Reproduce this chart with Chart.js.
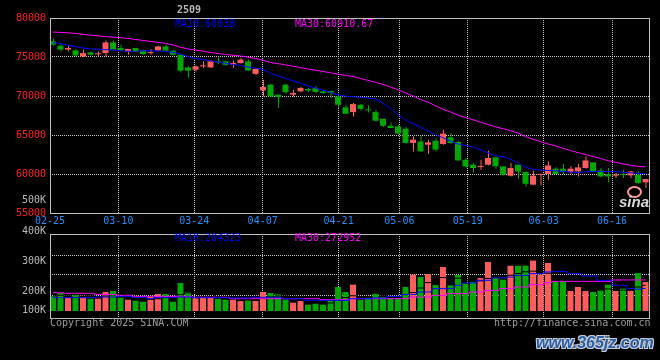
<!DOCTYPE html>
<html>
<head>
<meta charset="utf-8">
<title>2509</title>
<script src="https://cdn.jsdelivr.net/npm/chart.js@4/dist/chart.umd.min.js"></script>
<style>
body { margin: 0; background: #000; }
#box { position: relative; width: 660px; height: 360px; overflow: hidden; background: #000; }
canvas { position: absolute; left: 0; top: 0; }
.t { position: absolute; font: 10px/12px "DejaVu Sans Mono", monospace; white-space: pre; }
.ax { right: 614px; text-align: right; color: #b8b8b8; }
</style>
</head>
<body>
<div id="box">
  <canvas id="kline" width="660" height="232"></canvas>
  <canvas id="vol" width="660" height="360"></canvas>

  <div class="t" style="left:177px;top:4px;color:#b8b8b8;font-weight:bold">2509</div>
  <div class="t" style="left:175px;top:18px;color:#0000ff">MA10:60038</div>
  <div class="t" style="left:295px;top:18px;color:#ff00ff">MA30:60910.67</div>
  <div class="t ax" style="top:194px">500K</div>

  <div class="t ax" style="top:225px">400K</div>
  <div class="t ax" style="top:255px">300K</div>
  <div class="t ax" style="top:285px">200K</div>
  <div class="t ax" style="top:304px">100K</div>
  <div class="t" style="left:175px;top:232px;color:#0000ff">MA10:204323</div>
  <div class="t" style="left:295px;top:232px;color:#ff00ff">MA30:272952</div>

  <div class="t" style="left:50px;top:317px;color:#9a9a9a">Copyright 2025 SINA.COM</div>
  <div class="t" style="left:494px;top:317px;color:#9a9a9a">http://finance.sina.com.cn</div>

  <div style="position:absolute;left:627px;top:186px;width:11px;height:8px;border:2px solid #ff9a9a;border-radius:50%"></div>
  <div style="position:absolute;left:619px;top:194px;font:italic bold 15px/16px 'Liberation Sans',sans-serif;color:#d8d8d8">sina</div>
  <div style="position:absolute;left:536px;top:335px;font:italic bold 16px/16px 'Liberation Sans',sans-serif;color:#2f5f9f;text-shadow:-1px -1px 0 #c8d0e0,1px -1px 0 #c8d0e0,-1px 1px 0 #c8d0e0,1px 1px 0 #c8d0e0">www.365jz.com</div>
</div>

<script>
const dates = [
  "02-25", "02-26", "02-27", "02-28",
  "03-03", "03-04", "03-05", "03-06", "03-07", "03-10", "03-11", "03-12", "03-13", "03-14",
  "03-17", "03-18", "03-19", "03-20", "03-21", "03-24", "03-25", "03-26", "03-27", "03-28", "03-31",
  "04-01", "04-02", "04-03", "04-07", "04-08", "04-09", "04-10", "04-11", "04-14", "04-15", "04-16",
  "04-17", "04-18", "04-21", "04-22", "04-23", "04-24", "04-25", "04-28", "04-29", "04-30",
  "05-06", "05-07", "05-08", "05-09", "05-12", "05-13", "05-14", "05-15", "05-16", "05-19", "05-20",
  "05-21", "05-22", "05-23", "05-26", "05-27", "05-28", "05-29", "05-30",
  "06-03", "06-04", "06-05", "06-06", "06-09", "06-10", "06-11", "06-12", "06-13", "06-16", "06-17",
  "06-18", "06-19", "06-20", "06-23"
];
const tickDates = ["02-25", "03-10", "03-24", "04-07", "04-21", "05-06", "05-19", "06-03", "06-16"];

const open = [
  77000, 76450, 75950, 75850, 75080, 75600, 75350, 75500, 76870, 76150,
  75680, 76150, 75850, 75500, 75850, 76360, 75800, 75300, 73670, 73370,
  73800, 73670, 74440, 74440, 74000, 74230, 74440, 72840, 70720, 71450,
  70170, 71450, 70170, 70600, 70900, 71030, 70590, 70640, 69950, 68540,
  67940, 68880, 68250, 67940, 67090, 66190, 66100, 65810, 63970, 64180,
  63750, 64270, 63850, 64700, 64100, 61830, 61190, 60900, 61190, 62130,
  60980, 59780, 61190, 60250, 58630, 59900, 60000, 60680, 60680, 60250,
  60330, 60770, 61490, 60460, 59990, 59780, 59990, 59820, 59910, 58920
];
const high = [
  77350, 76700, 76550, 76000, 75940, 75720, 75700, 77130, 77130, 76580,
  76030, 76200, 75930, 76030, 76450, 76580, 75850, 75300, 73800, 73920,
  74440, 74650, 74950, 74550, 74560, 74870, 74650, 73600, 72090, 71580,
  70170, 71580, 70800, 71160, 71030, 71280, 70720, 70680, 70300, 68880,
  69090, 69010, 68800, 68250, 67090, 66650, 66320, 66030, 64830, 64960,
  64400, 64610, 65680, 65260, 64270, 62050, 61410, 61830, 62990, 62260,
  60980, 61410, 61190, 60330, 60420, 60000, 61620, 60850, 61320, 61000,
  61320, 62260, 61490, 60770, 60770, 60130, 60550, 60420, 60420, 59350
];
const low = [
  76450, 75700, 75700, 75050, 75000, 75200, 75070, 75080, 75850, 75720,
  75300, 75600, 75300, 75300, 75800, 75720, 75200, 73000, 72380, 73150,
  73600, 73600, 74100, 73900, 73600, 74140, 73200, 72700, 69950, 69870,
  68460, 70250, 69950, 70480, 70480, 70380, 70300, 69740, 68460, 67730,
  67380, 68120, 67900, 66740, 66030, 65900, 65130, 63880, 62900, 62820,
  62560, 62900, 63760, 63850, 61740, 60770, 60190, 60550, 61100, 60680,
  59820, 59690, 59400, 58410, 58630, 58540, 59270, 60000, 60000, 60000,
  59690, 60680, 60250, 59560, 58920, 59480, 59480, 59480, 58750, 58200
];
const close = [
  76600, 75950, 76150, 75200, 75500, 75300, 75400, 76870, 75940, 75850,
  76030, 75640, 75380, 75550, 76360, 75810, 75300, 73240, 73240, 73800,
  73920, 74440, 74310, 74000, 74230, 74650, 73280, 73460, 71160, 69950,
  69870, 70500, 70380, 71030, 70720, 70520, 70380, 70380, 68880, 67730,
  68960, 68330, 68160, 66830, 66190, 65900, 65170, 63970, 64400, 62900,
  64050, 63120, 65170, 63970, 61740, 60980, 60770, 60980, 62050, 60980,
  59910, 60770, 60330, 58750, 59780, 59950, 61100, 60000, 60250, 60680,
  60850, 61740, 60330, 59690, 59690, 59910, 59860, 60330, 58840, 59350
];
const ma10 = [
  76850, 76720, 76500, 76330, 76150, 76050, 75990, 75950, 75900, 75800,
  75740, 75740, 75780, 75800, 75760, 75720, 75600, 75380, 75050, 74800,
  74680, 74500, 74350, 74200, 74050, 73900, 73720, 73600, 73400, 72900,
  72600, 72250, 71950, 71650, 71300, 71000, 70750, 70450, 70150, 69980,
  69900, 69850, 69750, 69600, 69100, 68400, 67600, 66900, 66450, 66000,
  65500, 65050, 64650, 64200, 63850, 63650, 63450, 63100, 62700, 62350,
  62200, 61900, 61450, 60900, 60600, 60500, 60450, 60420, 60350, 60250,
  60200, 60260, 60320, 60330, 60330, 60300, 60230, 60150, 60090, 60040
];
const ma30 = [
  78200, 78150, 78100, 78020, 77900, 77800, 77700, 77620, 77550, 77470,
  77380, 77250, 77120, 77000, 76880, 76750, 76550, 76250, 76030, 75900,
  75750, 75580, 75450, 75330, 75230, 75130, 74990, 74800, 74600, 74300,
  74150, 73980, 73820, 73650, 73470, 73300, 73150, 72980, 72800, 72650,
  72500, 72250, 72000, 71750, 71480, 71150, 70800, 70400, 70000, 69550,
  69200, 68750, 68300, 67950, 67550, 67250, 66950, 66650, 66350, 66050,
  65800, 65550, 65250, 64800, 64450, 64150, 63850, 63600, 63300, 63000,
  62750, 62500, 62250, 62000, 61700, 61500, 61300, 61120, 60980, 60910
];

// volume in thousands of lots
const volume = [
  126, 154, 113, 148, 113, 105, 105, 162, 171, 113,
  96, 88, 79, 119, 145, 145, 79, 239, 162, 108,
  116, 116, 105, 96, 96, 85, 91, 88, 162, 154,
  142, 96, 71, 85, 54, 62, 54, 91, 205, 162,
  225, 96, 113, 154, 119, 110, 110, 205, 310, 290,
  315, 222, 375, 219, 307, 233, 247, 281, 418, 284,
  267, 386, 386, 386, 430, 310, 410, 253, 253, 171,
  205, 171, 162, 177, 225, 171, 191, 171, 324, 247
];
const volMa5 = [
  130, 135, 135, 140, 138, 130, 122, 128, 138, 143,
  131, 110, 95, 99, 105, 115, 118, 140, 155, 160,
  150, 148, 112, 108, 105, 99, 95, 92, 106, 119,
  127, 128, 125, 109, 82, 71, 65, 69, 94, 115,
  130, 150, 158, 151, 135, 117, 123, 140, 158, 196,
  242, 262, 285, 275, 280, 265, 256, 257, 278, 290,
  295, 305, 320, 335, 340, 335, 322, 300, 290, 260,
  230, 205, 178, 179, 188, 181, 178, 188, 205, 219
];
const volMa10 = [
  114, 114, 114, 114, 114, 114, 119, 119, 119, 125,
  125, 117, 117, 105, 114, 114, 114, 119, 119, 114,
  114, 114, 114, 114, 111, 111, 111, 117, 117, 117,
  117, 105, 105, 105, 91, 91, 91, 91, 91, 91,
  105, 105, 105, 111, 111, 125, 125, 142, 142, 162,
  162, 191, 191, 191, 219, 239, 239, 262, 262, 282,
  282, 290, 304, 304, 319, 319, 333, 338, 338, 319,
  319, 299, 299, 262, 262, 219, 219, 191, 186, 192
];
const volMa30 = [
  159, 155, 151, 151, 151, 151, 142, 142, 142, 134,
  134, 125, 125, 125, 125, 125, 125, 125, 125, 117,
  117, 117, 117, 117, 105, 105, 105, 105, 105, 105,
  105, 105, 105, 105, 105, 105, 97, 97, 97, 97,
  105, 105, 105, 105, 105, 105, 105, 105, 119, 119,
  119, 134, 134, 148, 148, 148, 162, 162, 176, 176,
  191, 191, 205, 205, 225, 225, 242, 253, 253, 253,
  253, 253, 253, 253, 253, 265, 265, 265, 265, 265
];

const UP = "#ff5c5c";
const DOWN = "#00a800";
const GRID = "#c8c8c8";
const candleColor = close.map((c, i) => c >= open[i] ? UP : DOWN);
const idx = dates.map((d, i) => i);

Chart.defaults.font.family = '"DejaVu Sans Mono", monospace';
Chart.defaults.font.size = 10;
Chart.defaults.animation = false;
Chart.defaults.plugins.legend.display = false;
Chart.defaults.plugins.tooltip.enabled = false;

// grey box round each plot area
const frame = {
  id: "frame",
  afterDraw(chart) {
    const a = chart.chartArea;
    const ctx = chart.ctx;
    ctx.save();
    ctx.strokeStyle = "#c0c0c0";
    ctx.lineWidth = 1;
    ctx.strokeRect(Math.round(a.left) + 0.5, Math.round(a.top) + 0.5,
      Math.round(a.right - a.left) - 1, Math.round(a.bottom - a.top));
    ctx.restore();
  }
};

// bars sit at 7.5px steps, the date grid spreads over the full width
function barAxis(shift) {
  return { type: "linear", axis: "x", position: "bottom", min: -0.4 - shift, max: 79.6 - shift, offset: false, display: false };
}
function dateAxis(showLabels) {
  return {
    type: "category",
    axis: "x",
    position: "bottom",
    labels: dates,
    offset: false,
    grid: { offset: false, color: GRID, drawTicks: false },
    border: { display: false, dash: [1, 1] },
    ticks: { display: showLabels, color: "#1e90ff", autoSkip: false, maxRotation: 0, padding: 2 },
    afterBuildTicks: axis => { axis.ticks = axis.ticks.filter(t => tickDates.includes(dates[t.value])); },
    afterFit: axis => { axis.height = showLabels ? 19 : 0; }
  };
}
function line(values, color, order, stepped) {
  return {
    type: "line",
    data: idx.map(i => ({ x: i, y: values[i] })),
    borderColor: color,
    borderWidth: 1,
    pointRadius: 0,
    tension: 0,
    stepped: stepped,
    xAxisID: "x",
    yAxisID: "y",
    order: order
  };
}

new Chart(document.getElementById("kline"), {
  type: "bar",
  data: {
    labels: dates,
    datasets: [
      line(ma10, "#0000ff", 1, false),
      line(ma30, "#ff00ff", 2, false),
      {
        data: idx.map(i => ({ x: i, y: [open[i], close[i]] })),
        backgroundColor: candleColor,
        barThickness: 6,
        minBarLength: 1,
        grouped: false,
        inflateAmount: 0,
        xAxisID: "x",
        yAxisID: "y",
        order: 3
      },
      {
        data: idx.map(i => ({ x: i, y: [low[i], high[i]] })),
        backgroundColor: candleColor,
        barThickness: 1,
        grouped: false,
        inflateAmount: 0,
        xAxisID: "xw",
        yAxisID: "y",
        order: 4
      }
    ]
  },
  options: {
    responsive: false,
    layout: { autoPadding: false, padding: { top: 18, right: 10, bottom: 0, left: 0 } },
    scales: {
      x: barAxis(0),
      xw: barAxis(0.0667),
      xg: dateAxis(true),
      y: {
        min: 55000,
        max: 80000,
        ticks: { stepSize: 5000, color: "#ff2020", padding: 4, callback: v => String(v) },
        grid: { color: GRID, drawTicks: false },
        border: { display: false, dash: [1, 1] },
        afterFit: s => { s.width = 50; }
      }
    }
  },
  plugins: [frame]
});

new Chart(document.getElementById("vol"), {
  type: "bar",
  data: {
    labels: dates,
    datasets: [
      line(volMa10, "#0000ff", 1, "middle"),
      line(volMa30, "#ff00ff", 2, "middle"),
      line(volMa5, "#000000", 3, "middle"),
      {
        data: idx.map(i => ({ x: i, y: volume[i] })),
        backgroundColor: candleColor,
        barThickness: 6,
        grouped: false,
        inflateAmount: 0,
        xAxisID: "x",
        yAxisID: "y",
        order: 4
      }
    ]
  },
  options: {
    responsive: false,
    layout: { autoPadding: false, padding: { top: 234, right: 10, bottom: 42, left: 0 } },
    scales: {
      x: barAxis(0),
      xg: dateAxis(false),
      y: {
        min: -59.7,
        max: 657,
        ticks: { display: false },
        grid: { color: GRID, drawTicks: false },
        border: { display: false, dash: [1, 1] },
        afterBuildTicks: s => { s.ticks = [136.5, 307.2, 477.8].map(v => ({ value: v })); },
        afterFit: s => { s.width = 50; }
      }
    }
  },
  plugins: [frame]
});
</script>
</body>
</html>
